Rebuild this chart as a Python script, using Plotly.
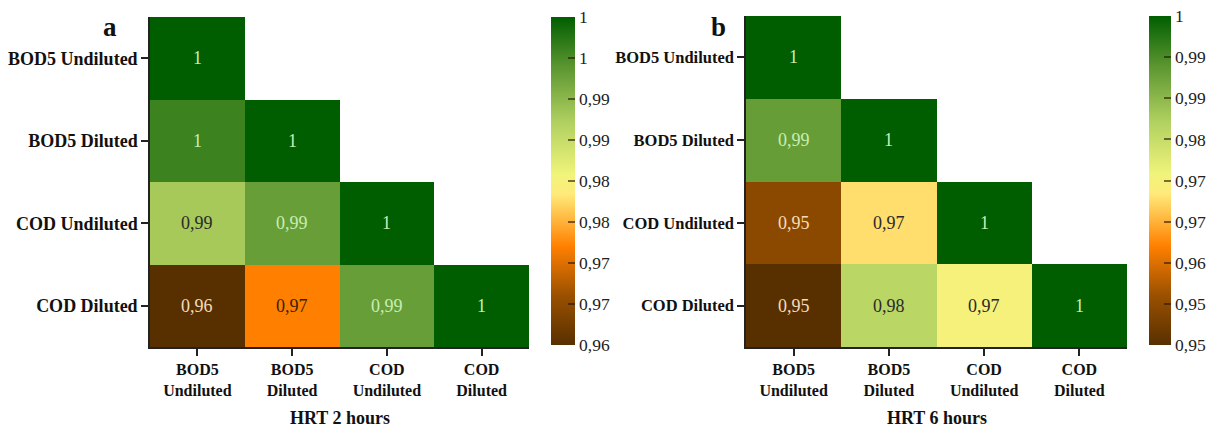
import plotly.graph_objects as go

# ---------------- data ----------------
labels = ["BOD5 Undiluted", "BOD5 Diluted", "COD Undiluted", "COD Diluted"]
x_ticktext = ["BOD5<br>Undiluted", "BOD5<br>Diluted", "COD<br>Undiluted", "COD<br>Diluted"]

# lower-triangular correlation matrices (None = blank cell)
corr_2h = [
    [1.000, None, None, None],
    [0.996, 1.000, None, None],
    [0.988, 0.993, 1.000, None],
    [0.960, 0.972, 0.993, 1.000],
]
corr_6h = [
    [1.000, None, None, None],
    [0.991, 1.000, None, None],
    [0.954, 0.971, 1.000, None],
    [0.948, 0.982, 0.974, 1.000],
]
range_2h = [0.96, 1.00]
range_6h = [0.948, 1.00]
cbar_text_2h = ["0,96", "0,97", "0,97", "0,98", "0,98", "0,99", "0,99", "1", "1"]
cbar_text_6h = ["0,95", "0,95", "0,96", "0,97", "0,97", "0,98", "0,99", "0,99", "1"]
panel_letters = ["a", "b"]
panel_titles = ["HRT 2 hours", "HRT 6 hours"]

# ---------------- style ----------------
FONT = "Liberation Serif"
colorscale = [
    [0.0, "#583000"],
    [0.15, "#9a5000"],
    [0.3, "#ff8000"],
    [0.46, "#ffea7a"],
    [0.52, "#f0f47a"],
    [0.68, "#b0d060"],
    [0.85, "#5a9530"],
    [1.0, "#005e00"],
]

W, H = 1216, 432
def px_x(p):
    return p / W
def px_y(p):
    return 1 - p / H

panels = [
    dict(z=corr_2h, rng=range_2h, ctext=cbar_text_2h,
         x0=150, x1=529, y0=17, y1=347, cbx=551, cbw=24,
         ysize=18, letter_x=110),
    dict(z=corr_6h, rng=range_6h, ctext=cbar_text_6h,
         x0=746, x1=1127, y0=16, y1=347, cbx=1149, cbw=22,
         ysize=16.5, letter_x=718),
]

fig = go.Figure()
annotations = []

for i, p in enumerate(panels):
    xa = "x" if i == 0 else "x2"
    ya = "y" if i == 0 else "y2"
    lo, hi = p["rng"]
    n = len(p["ctext"])
    tickvals = [lo + (hi - lo) * k / (n - 1) for k in range(n)]
    fig.add_trace(go.Heatmap(
        z=p["z"], x=labels, y=labels,
        xaxis=xa, yaxis=ya,
        zmin=lo, zmax=hi,
        colorscale=colorscale,
        xgap=0, ygap=0,
        hoverongaps=False,
        colorbar=dict(
            x=px_x(p["cbx"]), xanchor="left", xref="paper",
            y=px_y((p["y0"] + p["y1"] - 2) / 2), yanchor="middle",
            len=(p["y1"] - 2 - p["y0"]) / H, lenmode="fraction",
            thickness=p["cbw"], thicknessmode="pixels",
            outlinewidth=0,
            tickvals=tickvals, ticktext=p["ctext"],
            ticks="inside", ticklen=7, tickcolor="rgba(40,20,0,0.6)", tickwidth=1.5,
            tickfont=dict(family=FONT, size=17.5, color="#222"),
            ypad=0, xpad=0,
        ),
    ))
    # cell text
    for r, row in enumerate(p["z"]):
        for c, v in enumerate(row):
            if v is None:
                continue
            frac = (v - lo) / (hi - lo)
            txt = f"{round(v, 2):g}".replace(".", ",")
            if 0.22 < frac < 0.75:
                col = "#3a2208" if frac < 0.4 else "#2a2a2a"
            elif frac >= 0.75:
                col = "#c8eeb4"
            else:
                col = "#f4dcbc"
            annotations.append(dict(
                x=labels[c], y=labels[r], xref=xa, yref=ya,
                text=txt, showarrow=False,
                font=dict(family=FONT, size=18, color=col),
            ))
    # panel letter
    annotations.append(dict(
        x=px_x(p["letter_x"]), y=px_y(27), xref="paper", yref="paper",
        xanchor="center", yanchor="middle", text=f"<b>{panel_letters[i]}</b>",
        showarrow=False, font=dict(family=FONT, size=27, color="#111"),
    ))
    # bottom title
    annotations.append(dict(
        x=px_x((p["x0"] + p["x1"]) / 2), y=px_y(418), xref="paper", yref="paper",
        xanchor="center", yanchor="middle", text=f"<b>{panel_titles[i]}</b>",
        showarrow=False, font=dict(family=FONT, size=18, color="#111"),
    ))

axis_common = dict(
    showgrid=False, zeroline=False, showline=True, linecolor="#222", linewidth=1.5,
    ticks="outside", ticklen=7, tickcolor="#222", tickwidth=1.5,
    type="category", fixedrange=True,
)

layout_axes = {}
for i, p in enumerate(panels):
    sx = "" if i == 0 else "2"
    layout_axes[f"xaxis{sx}"] = dict(
        axis_common,
        domain=[px_x(p["x0"]), px_x(p["x1"])],
        anchor=f"y{sx}",
        tickvals=labels, ticktext=[f"<b>{t}</b>" for t in x_ticktext],
        tickfont=dict(family=FONT, size=16, color="#111"),
        categoryorder="array", categoryarray=labels,
        range=[-0.5, 3.5],
    )
    layout_axes[f"yaxis{sx}"] = dict(
        axis_common,
        domain=[px_y(p["y1"]), px_y(p["y0"])],
        anchor=f"x{sx}",
        tickvals=labels, ticktext=[f"<b>{t}</b>" for t in labels],
        tickfont=dict(family=FONT, size=p["ysize"], color="#111"),
        categoryorder="array", categoryarray=labels,
        range=[3.5, -0.5],
    )

fig.update_layout(
    width=W, height=H,
    margin=dict(l=0, r=0, t=0, b=0),
    paper_bgcolor="white", plot_bgcolor="white",
    showlegend=False,
    annotations=annotations,
    **layout_axes,
)

fig.write_html("out.html", config={"displayModeBar": False},
               post_script="document.body.style.margin='0';")
